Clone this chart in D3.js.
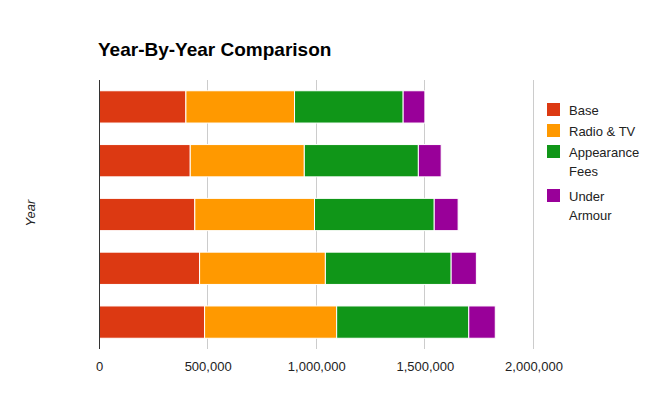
<!DOCTYPE html>
<html>
<head>
<meta charset="utf-8">
<script src="https://cdn.jsdelivr.net/npm/d3@7"></script>
<style>
  body { margin: 0; background: #fff; }
  svg { font-family: "Liberation Sans", Arial, sans-serif; }
</style>
</head>
<body>
<svg id="chart" width="664" height="397"></svg>
<script>
// rows top to bottom
var years = ["Year 1", "Year 2", "Year 3", "Year 4", "Year 5"];
var seriesNames = ["Base", "Radio & TV", "Appearance Fees", "Under Armour"];
var legendLines = [["Base"], ["Radio & TV"], ["Appearance", "Fees"], ["Under", "Armour"]];
var colors = ["#dc3912", "#ff9900", "#109618", "#990099"];
var base = [400000, 420000, 441000, 463000, 486000];
var radioTv = [500000, 525000, 551000, 579000, 608000];
var appearance = [500000, 525000, 551000, 579000, 608000];
var underArmour = [100000, 105000, 110000, 116000, 122000];
var xTicks = [0, 500000, 1000000, 1500000, 2000000];

var svg = d3.select("#chart");
var plotLeft = 99, plotRight = 533.5, plotTop = 80, plotBottom = 349;

var rows = years.map(function(y, i) {
  return { year: y, "Base": base[i], "Radio & TV": radioTv[i],
           "Appearance Fees": appearance[i], "Under Armour": underArmour[i] };
});
var stacked = d3.stack().keys(seriesNames)(rows);

var x = d3.scaleLinear().domain([0, 2000000]).range([plotLeft, plotRight]);
var y = d3.scaleBand().domain(years).range([plotTop, plotBottom]).paddingInner(0.4).paddingOuter(0.2);

// gridlines
svg.append("g").selectAll("line.grid").data(xTicks.slice(1)).enter().append("line")
    .attr("x1", function(d) { return x(d); })
    .attr("x2", function(d) { return x(d); })
    .attr("y1", plotTop).attr("y2", plotBottom)
    .attr("stroke", "#cccccc").attr("stroke-width", 1)
    .attr("shape-rendering", "crispEdges");

// bars
var layer = svg.append("g").selectAll("g.layer").data(stacked).enter().append("g")
    .attr("fill", function(d, i) { return colors[i]; });
layer.selectAll("rect").data(function(d) { return d; }).enter().append("rect")
    .attr("x", function(d) { return x(d[0]); })
    .attr("width", function(d) { return x(d[1]) - x(d[0]); })
    .attr("y", function(d) { return y(d.data.year); })
    .attr("height", y.bandwidth())
    .attr("stroke", "#ffffff").attr("stroke-width", 1);

// baseline
svg.append("line")
    .attr("x1", x(0)).attr("x2", x(0)).attr("y1", plotTop).attr("y2", plotBottom)
    .attr("stroke", "#333333").attr("stroke-width", 1)
    .attr("shape-rendering", "crispEdges");

// x axis labels
var xAxis = d3.axisBottom(x).tickValues(xTicks).tickSize(0).tickFormat(d3.format(","));
var gx = svg.append("g").attr("transform", "translate(0," + (plotBottom + 10) + ")").call(xAxis);
gx.select(".domain").remove();
gx.selectAll("text").attr("font-size", 13).attr("fill", "#222222")
    .attr("font-family", "'Liberation Sans', Arial, sans-serif");

// title
svg.append("text").attr("x", 98).attr("y", 56)
    .attr("font-size", 19).attr("font-weight", "bold").attr("fill", "#000")
    .text("Year-By-Year Comparison");

// y title
svg.append("text")
    .attr("transform", "translate(35,213) rotate(-90)")
    .attr("text-anchor", "middle").attr("font-size", 13).attr("font-style", "italic")
    .attr("fill", "#222222").text("Year");

// legend
var legendY = [103, 124, 145, 189];
var legend = svg.append("g").selectAll("g.legend").data(seriesNames).enter().append("g")
    .attr("transform", function(d, i) { return "translate(547," + legendY[i] + ")"; });
legend.append("rect").attr("width", 13).attr("height", 13)
    .attr("fill", function(d, i) { return colors[i]; });
legend.append("text").attr("x", 22).attr("y", 12)
    .attr("font-size", 13).attr("fill", "#222222")
    .selectAll("tspan").data(function(d, i) { return legendLines[i]; }).enter().append("tspan")
    .attr("x", 22).attr("dy", function(d, j) { return j === 0 ? 0 : 19; })
    .text(function(d) { return d; });
</script>
</body>
</html>
